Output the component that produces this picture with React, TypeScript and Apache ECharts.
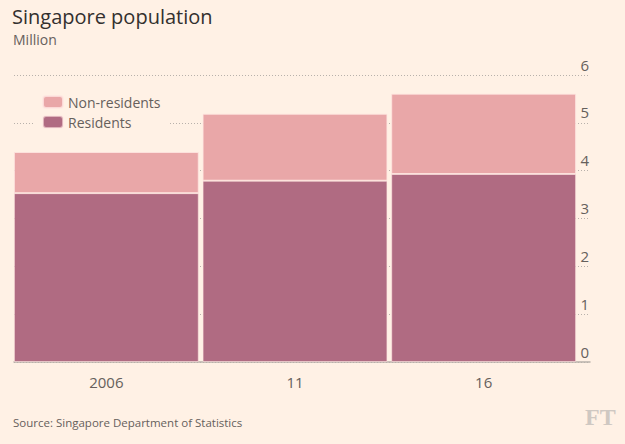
import React, { useEffect, useRef } from 'react';
import * as echarts from 'echarts';

const categories = ['2006', '11', '16'];
const residents = [3.53, 3.79, 3.93];
const nonResidents = [0.86, 1.4, 1.68];
const yMin = 0;
const yMax = 6;
const yStep = 1;

const BG = '#fff1e5';
const TEXT = '#66605c';

export default function App() {
  const ref = useRef<HTMLDivElement>(null);
  useEffect(() => {
    if (!ref.current) return;
    const chart = echarts.init(ref.current, null, { renderer: 'svg' });
    chart.setOption({
      animation: false,
      backgroundColor: BG,
      textStyle: { fontFamily: 'Open Sans' },
      legend: {
        orient: 'vertical',
        left: 34,
        top: 93,
        data: ['Non-residents', 'Residents'],
        itemWidth: 20,
        itemHeight: 12,
        itemGap: 6,
        padding: [2, 8, 2, 8],
        backgroundColor: BG,
        textStyle: { fontFamily: 'Open Sans', fontSize: 14, color: TEXT },
      },
      grid: [
        { left: 14, right: 35, top: 75, bottom: 82 },
        { left: 12, right: 47, top: 75, bottom: 82 },
      ],
      xAxis: [
        {
          type: 'category',
          gridIndex: 0,
          data: categories,
          axisLine: { show: true, lineStyle: { color: '#b8b1ab', width: 1.5 } },
          axisTick: { show: false },
          axisLabel: { show: false },
        },
        {
          type: 'category',
          gridIndex: 1,
          data: categories,
          axisLine: { show: false },
          axisTick: { show: false },
          axisLabel: { color: TEXT, fontSize: 15, margin: 12, fontFamily: 'Open Sans' },
        },
      ],
      yAxis: [
        {
          type: 'value',
          gridIndex: 0,
          position: 'right',
          min: yMin,
          max: yMax,
          interval: yStep,
          axisLine: { show: false },
          axisTick: { show: false },
          axisLabel: {
            inside: true,
            margin: 1,
            verticalAlign: 'bottom',
            padding: [0, 0, 3, 0],
            color: TEXT,
            fontSize: 15,
            fontFamily: 'Open Sans',
          },
          splitLine: { show: true, lineStyle: { color: '#b8b1ab', type: [1, 2], width: 1 } },
        },
        {
          type: 'value',
          gridIndex: 1,
          min: yMin,
          max: yMax,
          interval: yStep,
          show: false,
          splitLine: { show: false },
        },
      ],
      series: [
        {
          name: 'Residents',
          type: 'bar',
          xAxisIndex: 1,
          yAxisIndex: 1,
          stack: 'pop',
          data: residents,
          barCategoryGap: '2%',
          itemStyle: { color: '#b06b82', borderColor: 'rgba(255,230,225,0.6)', borderWidth: 1 },
        },
        {
          name: 'Non-residents',
          type: 'bar',
          xAxisIndex: 1,
          yAxisIndex: 1,
          stack: 'pop',
          data: nonResidents,
          barCategoryGap: '2%',
          itemStyle: { color: '#e9a7a8', borderColor: 'rgba(255,230,225,0.8)', borderWidth: 1 },
        },
      ],
      graphic: [
        {
          type: 'text',
          left: 12,
          top: 4,
          style: { text: 'Singapore population', fontSize: 20, lineHeight: 24, fill: '#33302e', fontFamily: 'Open Sans' },
        },
        {
          type: 'text',
          left: 13,
          top: 31,
          style: { text: 'Million', fontSize: 14, lineHeight: 16, fill: TEXT, fontFamily: 'Open Sans' },
        },
        {
          type: 'text',
          left: 13,
          top: 416,
          style: { text: 'Source: Singapore Department of Statistics', fontSize: 11.5, fill: TEXT, fontFamily: 'Open Sans' },
        },
        {
          type: 'text',
          left: 585,
          top: 405,
          style: { text: 'FT', fontSize: 24, fill: '#cfc8c2', fontFamily: 'Liberation Serif', fontWeight: 'bold' },
        },
      ],
    });
    return () => chart.dispose();
  }, []);
  return <div ref={ref} style={{ width: 625, height: 444, position: 'absolute', left: 0, top: 0 }} />;
}
